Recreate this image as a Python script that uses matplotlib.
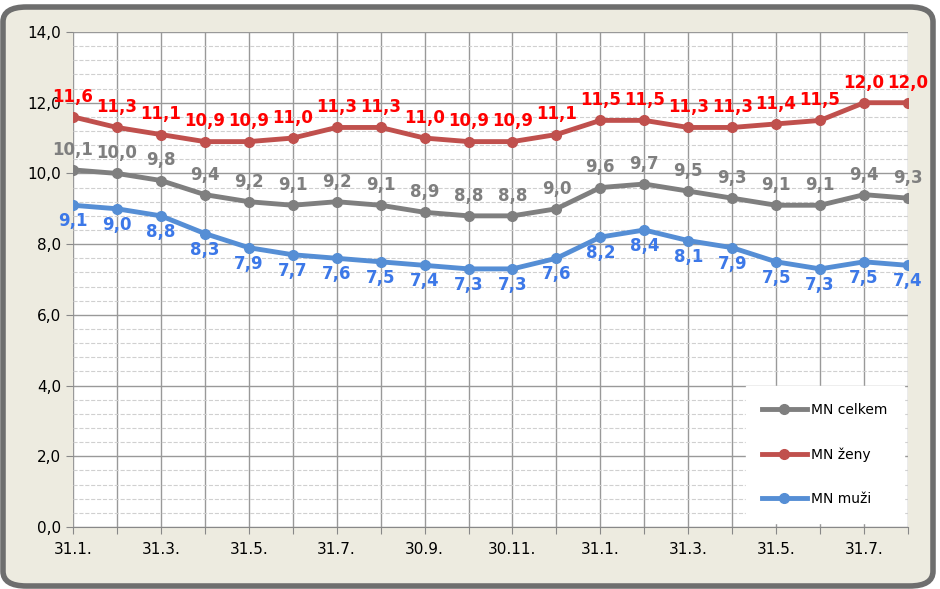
import matplotlib
matplotlib.use("Agg")
import matplotlib.pyplot as plt
from matplotlib.patches import FancyBboxPatch
import numpy as np

xlabels = ["31.1.", "31.3.", "31.5.", "31.7.", "30.9.", "30.11.", "31.1.", "31.3.", "31.5.", "31.7."]
celkem = [10.1,10.0,9.8,9.4,9.2,9.1,9.2,9.1,8.9,8.8,8.8,9.0,9.6,9.7,9.5,9.3,9.1,9.1,9.4,9.3]
zeny = [11.6,11.3,11.1,10.9,10.9,11.0,11.3,11.3,11.0,10.9,10.9,11.1,11.5,11.5,11.3,11.3,11.4,11.5,12.0,12.0]
muzi = [9.1,9.0,8.8,8.3,7.9,7.7,7.6,7.5,7.4,7.3,7.3,7.6,8.2,8.4,8.1,7.9,7.5,7.3,7.5,7.4]

W, H = 940, 589
fig = plt.figure(figsize=(W/100, H/100), dpi=100)
fig.patch.set_facecolor("white")
bg = FancyBboxPatch((3/W, 3/H), (W-10)/W, (H-10)/H, boxstyle="round,pad=0,rounding_size=0.025",
                    transform=fig.transFigure, facecolor="#EDEBE0", edgecolor="#6E6E6E", linewidth=4, zorder=-10)
fig.patches.append(bg)
ax = fig.add_axes([73/W, 1-527/H, (908-73)/W, (527-32)/H])
ax.set_zorder(5)
ax.set_facecolor("white")
x = np.arange(len(celkem))
ax.set_xlim(0, len(x)-1)
ax.set_ylim(0, 14)
ax.set_yticks(np.arange(0, 14.1, 2))
ax.set_yticklabels([f"{v:.1f}".replace(".", ",") for v in np.arange(0, 14.1, 2)], fontsize=11)
ax.set_yticks(np.arange(0, 14.01, 0.4), minor=True)
ax.set_xticks(x)
ax.set_xticklabels([xlabels[i//2] if i % 2 == 0 else "" for i in x], fontsize=11)
ax.tick_params(axis="x", length=5, color="#888888", pad=6)
ax.tick_params(axis="y", length=5, color="#888888")
ax.tick_params(axis="y", which="minor", length=0)
ax.grid(axis="y", which="major", color="#999999", lw=1)
ax.grid(axis="y", which="minor", color="#D0D0D0", lw=0.8, ls="--")
ax.grid(axis="x", color="#999999", lw=1)
ax.set_axisbelow(True)
for s in ["top", "right", "left"]:
    ax.spines[s].set_visible(False)
ax.spines["bottom"].set_color("#888888")

series = [(celkem, "#7F7F7F", "MN celkem", 8), (zeny, "#C0504D", "MN ženy", 8), (muzi, "#558ED5", "MN muži", -18)]
lab_colors = {"MN celkem": "#7F7F7F", "MN ženy": "#FF0000", "MN muži": "#3C78E8"}
for vals, c, name, off in series:
    ax.plot(x, vals, color=c, lw=3.5, marker="o", ms=7, label=name, zorder=3)
    for xi, v in zip(x, vals):
        ax.annotate(f"{v:.1f}".replace(".", ","), (xi, v), xytext=(0, off), textcoords="offset points",
                    ha="center", va="bottom", fontsize=12, fontweight="bold", color=lab_colors[name], zorder=4)

leg = ax.legend(loc="lower right", bbox_to_anchor=(1.0, 0.0), frameon=True, fancybox=False, fontsize=10,
                labelspacing=2.2, borderpad=1.2, handlelength=3.2, handletextpad=0.3, borderaxespad=0.3)
leg.get_frame().set_edgecolor("white")
leg.get_frame().set_facecolor("white")
leg.get_frame().set_alpha(1)
fig.savefig("out.png", dpi=100)
